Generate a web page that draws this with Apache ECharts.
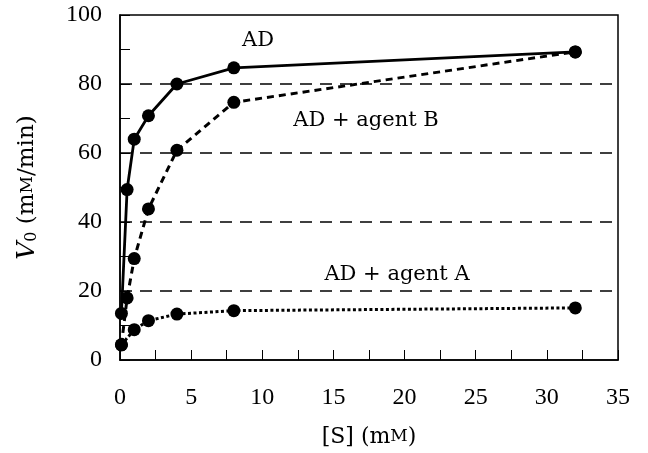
<!DOCTYPE html>
<html>
<head>
<meta charset="utf-8">
<script src="https://cdn.jsdelivr.net/npm/echarts@6/dist/echarts.min.js"></script>
<style>html,body{margin:0;padding:0;background:#fff;}#c{width:648px;height:453px;}</style>
</head>
<body>
<div id="c"></div>
<script>
// Substrate concentrations [S] (mM)
const sAD = [0.1, 0.5, 1, 2, 4, 8, 32];
const vAD = [13.5, 49.4, 64, 70.8, 80, 84.7, 89.3];
const sB = [0.1, 0.5, 1, 2, 4, 8, 32];
const vB = [4.4, 18, 29.4, 43.8, 60.8, 74.7, 89.3];
const sA = [0.1, 1, 2, 4, 8, 32];
const vA = [4.4, 8.8, 11.4, 13.3, 14.3, 15.1];
const seriesNames = ['AD', 'AD + agent B', 'AD + agent A'];

const FONT = 'DejaVu Serif';
const TFONT = 'Liberation Serif';
const chart = echarts.init(document.getElementById('c'), null, {renderer: 'canvas'});
function pairs(xs, ys) { return xs.map((x, i) => [x, ys[i]]); }
const common = {
  type: 'line', symbol: 'circle', symbolSize: 13, showSymbol: true,
  itemStyle: {color: '#000'}, animation: false, z: 5
};
chart.setOption({
  backgroundColor: '#fff',
  animation: false,
  grid: {left: 120, right: 30, top: 15, bottom: 82, show: true, borderColor: '#000', borderWidth: 1.5},
  xAxis: {
    type: 'value', min: 0, max: 35, interval: 5,
    name: '[S] (m{sc|M})', nameLocation: 'middle', nameGap: 66,
    nameTextStyle: {fontFamily: FONT, fontSize: 22, color: '#000', rich: {sc: {fontFamily: FONT, fontSize: 17, color: '#000'}}},
    axisLine: {show: true, lineStyle: {color: '#000', width: 1.5}},
    axisTick: {show: true, inside: true, length: 10, lineStyle: {color: '#000', width: 1}},
    minorTick: {show: true, splitNumber: 2, length: 10, lineStyle: {color: '#000', width: 1}},
    axisLabel: {fontFamily: TFONT, fontSize: 24, color: '#000', margin: 26},
    splitLine: {show: false}
  },
  yAxis: {
    type: 'value', min: 0, max: 100, interval: 20,
    name: '{i|V}{sub|0} (m{sc|M}/min)', nameLocation: 'middle', nameGap: 80,
    nameTextStyle: {fontFamily: FONT, fontSize: 23, color: '#000', rich: {
      i: {fontFamily: FONT, fontStyle: 'italic', fontSize: 25, color: '#000'},
      sub: {fontFamily: FONT, fontSize: 16, color: '#000', verticalAlign: 'bottom', padding: [9, 0, 0, 0]},
      sc: {fontFamily: FONT, fontSize: 17, color: '#000'}
    }},
    axisLine: {show: true, lineStyle: {color: '#000', width: 1.5}},
    axisTick: {show: true, inside: true, length: 10, lineStyle: {color: '#000', width: 1}},
    minorTick: {show: true, splitNumber: 2, length: 10, lineStyle: {color: '#000', width: 1}},
    axisLabel: {fontFamily: TFONT, fontSize: 24, color: '#000', margin: 18},
    splitLine: {show: true, showMinLine: false, showMaxLine: false, lineStyle: {color: '#000', width: 1.5, type: [12, 8]}}
  },
  series: [
    Object.assign({}, common, {name: seriesNames[0], data: pairs(sAD, vAD), lineStyle: {color: '#000', width: 2.8, type: 'solid'}}),
    Object.assign({}, common, {name: seriesNames[1], data: pairs(sB, vB), lineStyle: {color: '#000', width: 3, type: [7, 5]}}),
    Object.assign({}, common, {name: seriesNames[2], data: pairs(sA, vA), lineStyle: {color: '#000', width: 3, type: [3, 2.5]}})
  ],
  graphic: [
    {type: 'text', x: 258, y: 41, z: 10, style: {text: seriesNames[0], font: '21px "DejaVu Serif"', fill: '#000', align: 'center', verticalAlign: 'middle'}},
    {type: 'text', x: 366, y: 121, z: 10, style: {text: seriesNames[1], font: '21px "DejaVu Serif"', fill: '#000', align: 'center', verticalAlign: 'middle'}},
    {type: 'text', x: 397, y: 275, z: 10, style: {text: seriesNames[2], font: '21px "DejaVu Serif"', fill: '#000', align: 'center', verticalAlign: 'middle'}}
  ]
});
</script>
</body>
</html>
